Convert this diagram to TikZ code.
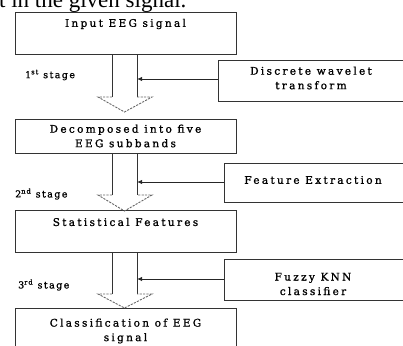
\documentclass[tikz,border=0pt]{standalone}
\usepackage{fontspec}
\setmainfont{DejaVu Serif}
\newfontfamily\topfont{Liberation Serif}
\usetikzlibrary{arrows.meta,calc}
\begin{document}
\begin{tikzpicture}[x=1pt,y=-1pt,
  boxstyle/.style={draw=black!80, line width=0.9pt, fill=white, inner sep=0pt, anchor=north west},
  lbl/.style={font=\fontsize{10.5}{14.5}\selectfont\addfontfeatures{LetterSpace=22,FakeBold=1.2}, inner sep=0pt, align=center, text=black},
  stagelbl/.style={font=\fontsize{9.5}{11}\selectfont\addfontfeatures{LetterSpace=15,FakeBold=1.2}, inner sep=0pt, anchor=west, text=black},
  shaft/.style={draw=black!80, line width=0.9pt},
  headline/.style={draw=black!60, line width=0.9pt, dash pattern=on 2.2pt off 1.2pt},
  conn/.style={draw=black!85, line width=0.9pt, -{Latex[length=5pt,width=4.5pt]}}
]
\useasboundingbox (0,0) rectangle (403,345);
\clip (0,0) rectangle (403,345);

% cut-off text at the top
\node[anchor=base west, font=\topfont\fontsize{23}{23}\selectfont, inner sep=0pt] (toptext) at (-1,8) {t in the given signal.};

% main boxes
\node[boxstyle, minimum width=221pt, minimum height=42pt] (b1) at (15,12) {};
\node[boxstyle, minimum width=221pt, minimum height=34pt] (b2) at (15,119) {};
\node[boxstyle, minimum width=221pt, minimum height=42pt] (b3) at (15,210) {};
\node[boxstyle, minimum width=221pt, minimum height=45pt] (b4) at (15,308) {};

\node[lbl] (t1) at (125.5,24) {Input EEG signal};
\node[lbl] (t2) at (125.5,136) {Decomposed into five\\EEG subbands};
\node[lbl] (t3) at (125.5,222) {Statistical Features};
\node[lbl] (t4) at (125.5,331) {Classification of EEG\\signal};

% side boxes
\node[boxstyle, minimum width=185pt, minimum height=41pt] (r1) at (218,60) {};
\node[boxstyle, minimum width=179pt, minimum height=39pt] (r2) at (224,163) {};
\node[boxstyle, minimum width=179pt, minimum height=41pt] (r3) at (224,259) {};

\node[lbl] (u1) at (311,78) {Discrete wavelet\\transform};
\node[lbl] (u2) at (313,180) {Feature Extraction};
\node[lbl] (u3) at (313,284) {Fuzzy KNN\\classifier};

% stage labels
\node[stagelbl] (s1) at (25,75) {1\textsuperscript{st} stage};
\node[stagelbl] (s2) at (15,194) {2\textsuperscript{nd} stage};
\node[stagelbl] (s3) at (18,285) {3\textsuperscript{rd} stage};

% block arrows
\foreach \i/\up/\bot/\tip in {1/b1/97/112, 2/b2/195/211, 3/b3/294/308}{
  \coordinate (shl\i) at (112,\bot);
  \coordinate (shr\i) at (137,\bot);
  \coordinate (tip\i) at (124.5,\tip);
  \draw[shaft] (\up.south -| shl\i) -- (shl\i);
  \draw[shaft] (\up.south -| shr\i) -- (shr\i);
  \draw[headline] (shl\i) -- ++(-14,0) -- (tip\i) -- ($(shr\i)+(15,0)$) -- (shr\i);
}

% connectors from side boxes
\coordinate (c1) at (137,79);
\coordinate (c2) at (137,182);
\coordinate (c3) at (137,279);
\draw[conn] (r1.west |- c1) -- (c1);
\draw[conn] (r2.west |- c2) -- (c2);
\draw[conn] (r3.west |- c3) -- (c3);
\end{tikzpicture}
\end{document}
